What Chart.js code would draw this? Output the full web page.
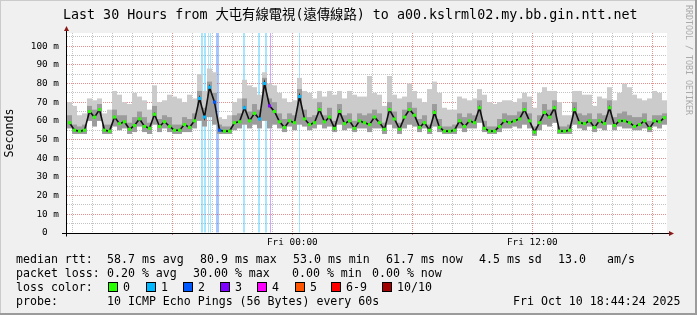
<!DOCTYPE html>
<html><head><meta charset="utf-8">
<script src="https://cdn.jsdelivr.net/npm/chart.js@4.4.0/dist/chart.umd.min.js"></script>
<style>
html,body{margin:0;padding:0;}
body{width:697px;height:315px;overflow:hidden;background:#f0f0f0;}
#wrap{position:relative;width:697px;height:315px;}
canvas{position:absolute;left:0;top:0;}
.t{position:absolute;font-family:"DejaVu Sans Mono",monospace;font-size:11.6px;white-space:pre;color:#000;line-height:14px;}
.title{position:absolute;left:63px;top:7px;font-family:"DejaVu Sans Mono","Noto Sans CJK TC",monospace;font-size:13.33px;line-height:16px;white-space:pre;color:#000;}
.wm{position:absolute;left:684px;top:5px;writing-mode:vertical-rl;font-family:"DejaVu Sans Mono",monospace;font-size:8.3px;line-height:9px;color:#aaaaaa;white-space:pre;}
.box{position:absolute;width:10px;height:10px;box-sizing:border-box;border:1px solid #000;top:282px;}
.fr{position:absolute;}
</style></head>
<body><div id="wrap">
<canvas id="c" width="697" height="315"></canvas>
<div class="fr" style="left:0;top:0;width:697px;height:1px;background:#cbcbcb"></div>
<div class="fr" style="left:0;top:0;width:1px;height:315px;background:#cbcbcb"></div>
<div class="fr" style="left:695px;top:0;width:2px;height:315px;background:#9b9b9b"></div>
<div class="fr" style="left:0;top:313px;width:697px;height:2px;background:#9b9b9b"></div>
<div class="title">Last 30 Hours from 大屯有線電視(遠傳線路) to a00.kslrml02.my.bb.gin.ntt.net</div>
<div class="wm">RRDTOOL / TOBI OETIKER</div>
<div id="legend"></div>
</div>
<script>
// ---- data (15-minute samples across 30 hours, values in ms) ----
const medianRtt = [
59, 55, 54.5, 55, 65, 62, 66, 55, 54.5, 62,
58.5, 59.5, 55.5, 57.5, 61, 57, 56, 63.5, 57, 59.5,
57, 55, 55, 58, 56.5, 60, 72, 62, 78, 70,
55, 54.5, 54.5, 59, 59.5, 67, 60, 64, 61, 80,
68, 65, 59.5, 56.5, 60, 59, 73, 61, 58, 59,
66, 59.5, 62, 56, 65, 58.5, 60, 56, 60, 59,
58, 62, 59, 55.5, 66, 61, 55.5, 62, 66, 63,
56.5, 59, 55, 64.5, 56.5, 54.5, 54.5, 55, 60, 57,
60, 59, 67, 56, 54.5, 54.5, 57, 60, 59, 60,
61, 66, 60, 54, 59, 64.5, 62, 67, 54.5, 54.5,
55, 66, 59, 58.5, 60, 56.5, 60, 58.5, 67, 57.5,
60, 60, 59, 57, 58, 60, 56, 60, 59.5, 61.7
];
const pingMin = [
56, 53, 53, 53, 60, 57, 60, 53, 53, 57,
55, 56, 53, 54, 57, 54, 53, 58, 54, 56,
54, 53, 53, 54, 54, 56, 60, 57, 62, 58,
53, 53, 53, 55, 56, 58, 56, 58, 56, 60,
56, 58, 56, 54, 57, 55, 58, 57, 55, 56,
58, 56, 57, 54, 58, 55, 56, 54, 56, 56,
54, 56, 56, 53, 58, 56, 53, 56, 58, 57,
54, 56, 53, 57, 54, 53, 53, 53, 56, 54,
56, 56, 59, 54, 53, 53, 54, 56, 56, 57,
56, 58, 56, 52, 55, 58, 57, 59, 53, 53,
53, 58, 56, 55, 57, 54, 56, 55, 58, 55,
57, 56, 56, 55, 55, 56, 54, 57, 56, 58
];
const pingUpper = [
63, 58, 57, 58, 68, 66, 69, 58, 58, 66,
63, 63, 59, 62, 65, 62, 59, 68, 61, 63,
62, 58, 58, 62, 61, 64, 76, 67, 81, 75,
58, 57, 57, 63, 64, 72, 65, 69, 66, 83,
72, 70, 64, 61, 64, 63, 77, 66, 62, 63,
70, 63, 67, 60, 69, 63, 64, 60, 64, 63,
64, 66, 64, 59, 70, 65, 59, 66, 70, 67,
61, 63, 58, 69, 61, 57, 57, 58, 64, 62,
64, 63, 71, 60, 57, 57, 61, 64, 63, 63,
65, 70, 64, 57, 63, 69, 66, 71, 57, 57,
58, 70, 64, 63, 64, 61, 64, 63, 71, 62,
64, 65, 63, 62, 62, 64, 60, 63, 63, 64
];
const pingMax = [
70, 68, 63, 64, 72, 71, 72, 64, 66, 76, 74, 70, 69, 75, 73, 71, 66, 79, 70, 71, 74, 73, 72, 70, 74, 72, 85, 76, 88, 86,
62, 61, 63, 70, 72, 82, 79, 78, 74, 86, 80, 79, 75, 72, 70, 71, 83, 76, 75, 72, 76, 73, 76, 74, 76, 72, 76, 74, 73, 73,
84, 75, 74, 68, 84, 74, 72, 73, 80, 76, 72, 70, 77, 81, 75, 67, 66, 66, 73, 72, 71, 72, 77, 74, 70, 69, 70, 71, 71, 70,
72, 75, 73, 67, 75, 78, 76, 76, 70, 63, 63, 76, 76, 74, 74, 68, 73, 72, 78, 71, 75, 80, 78, 74, 72, 71, 72, 76, 75, 71
];
// loss events: 3-minute step index and number of lost pings (of 10)
const lossStep  = [134,135,137,138,141,143,149,150,151,176,177,191,192,198,199,203,232];
const lossCount = [1,1,1,1,1,1,2,2,2,1,1,1,1,1,1,3,1];
// x axis: minutes since Thu 12:44
const hourTicks = [16,76,136,196,256,316,376,436,496,556,616,676,736,796,856,916,976,1036,1096,1156,1216,1276,1336,1396,1456,1516,1576,1636,1696,1756];
const majorTicks = [316,676,1036,1396,1756];
const xLabelAt = [676,1396];
const xLabelText = ['Fri 00:00','Fri 12:00'];
const yTicks = [0,5,10,15,20,25,30,35,40,45,50,55,60,65,70,75,80,85,90,95,100,105];
// legend
const lossLevels = ['0','1','2','3','4','5','6-9','10/10'];
const lossColors = ['#26ff00','#00b8ff','#0059ff','#7e00ff','#ff00ff','#ff5500','#ff0000','#a10000'];
const lossBoxX = [108,146,183,220,257,295,331,382];
const statLines = [
  [[16,259,'median rtt:'],[107,259,'58.7 ms avg'],[200,259,'80.9 ms max'],[293,259,'53.0 ms min'],[386,259,'61.7 ms now'],[479,259,'4.5 ms sd'],[558,259,'13.0'],[607,259,'am/s']],
  [[16,273,'packet loss:'],[107,273,'0.20 % avg'],[193,273,'30.00 % max'],[292,273,'0.00 % min'],[372,273,'0.00 % now']],
  [[16,287,'loss color:']],
  [[16,301,'probe:'],[107,301,'10 ICMP Echo Pings (56 Bytes) every 60s'],[513,301,'Fri Oct 10 18:44:24 2025']]
];

// ---- legend text ----
const lg = document.getElementById('legend');
statLines.forEach(line => line.forEach(([x,y,s]) => {
  const d = document.createElement('div'); d.className='t'; d.style.left=x+'px'; d.style.top=(y-7)+'px'; d.textContent=s; lg.appendChild(d);
}));
lossLevels.forEach((lab,i) => {
  const b = document.createElement('div'); b.className='box'; b.style.left=lossBoxX[i]+'px'; b.style.background=lossColors[i]; lg.appendChild(b);
  const d = document.createElement('div'); d.className='t'; d.style.left=(lossBoxX[i]+15)+'px'; d.style.top='280px'; d.textContent=lab; lg.appendChild(d);
});

// ---- chart ----
const tMin = medianRtt.map((_, i) => 15*i + 7.5);
const lossFill = ['', 'rgba(0,184,255,0.35)', 'rgba(0,89,255,0.35)', 'rgba(126,0,255,0.35)'];
function pointColor(i){
  let m = 0;
  lossStep.forEach((s,k) => { if (s >= 5*i && s < 5*i+5) m = Math.max(m, lossCount[k]); });
  return lossColors[m];
}
const lossDatasets = [1,2,3].map(level => ({
  type:'bar', order:3, grouped:false, barThickness:1, inflateAmount:0, borderWidth:0,
  backgroundColor: lossFill[level],
  data: lossStep.map((s,k)=>({s,k})).filter(o=>lossCount[o.k]===level).map(o=>({x: o.s*3+1.5, y:[0,107]}))
}));

const plotBg = {
  id:'plotBg',
  beforeDraw(chart){ const {ctx, chartArea:a} = chart; ctx.save(); ctx.fillStyle='#fff'; ctx.fillRect(a.left,a.top,a.right-a.left,a.bottom-a.top); ctx.restore(); }
};
const axisArrows = {
  id:'axisArrows',
  afterDraw(chart){
    const {ctx, chartArea:a} = chart;
    const x0 = a.left - 0.5, y0 = a.bottom + 0.5;
    ctx.save();
    ctx.strokeStyle='#000'; ctx.lineWidth=1;
    ctx.beginPath();
    ctx.moveTo(x0, y0+3); ctx.lineTo(x0, a.top-3);
    ctx.moveTo(a.left-5, y0); ctx.lineTo(a.right+3, y0);
    ctx.stroke();
    ctx.fillStyle='#8b1a1a';
    ctx.beginPath(); ctx.moveTo(x0-2.5, a.top-2); ctx.lineTo(x0+2.5, a.top-2); ctx.lineTo(x0, a.top-7); ctx.closePath(); ctx.fill();
    ctx.beginPath(); ctx.moveTo(a.right+2, y0-2.5); ctx.lineTo(a.right+2, y0+2.5); ctx.lineTo(a.right+7, y0); ctx.closePath(); ctx.fill();
    ctx.restore();
  }
};

new Chart(document.getElementById('c'), {
  type:'bar',
  data:{
    datasets:[
      { type:'line', order:0, data: medianRtt.map((v,i)=>({x:tMin[i], y:v})),
        borderColor:'#111', borderWidth:1.6, tension:0,
        pointStyle:'rect', pointRadius:2.2, pointBorderWidth:0,
        pointBackgroundColor: medianRtt.map((_,i)=>pointColor(i)) },
      { type:'bar', order:1, grouped:false, barThickness:5, inflateAmount:0, borderWidth:0,
        backgroundColor:'#9c9c9c', data: tMin.map((t,i)=>({x:t, y:[pingMin[i], pingUpper[i]]})) },
      { type:'bar', order:2, grouped:false, barThickness:5, inflateAmount:0, borderWidth:0,
        backgroundColor:'#cbcbcb', data: tMin.map((t,i)=>({x:t, y:[pingMin[i], pingMax[i]]})) },
      ...lossDatasets
    ]
  },
  options:{
    responsive:false, animation:false, devicePixelRatio:1,
    layout:{ padding:{ top:33, right:30, bottom:62, left:0 } },
    plugins:{ legend:{display:false}, tooltip:{enabled:false} },
    scales:{
      x:{ type:'linear', min:0, max:1800, offset:false,
        afterBuildTicks: s => { s.ticks = hourTicks.map(v=>({value:v})); },
        afterFit: s => { s.height = 20; },
        ticks:{ autoSkip:false, maxRotation:0, padding:2, color:'#000',
          font:{ family:'DejaVu Sans Mono', size:9.4 },
          callback: v => { const k = xLabelAt.indexOf(v); return k >= 0 ? xLabelText[k] : ''; } },
        grid:{ offset:false, lineWidth:1, drawTicks:true, tickLength:2,
          color: c => majorTicks.includes(c.tick && c.tick.value) ? 'rgba(225,115,115,0.8)' : 'rgba(175,175,175,0.75)',
          tickColor: c => majorTicks.includes(c.tick && c.tick.value) ? 'rgba(225,115,115,0.9)' : 'rgba(0,0,0,0)' },
        border:{ display:false, dash:[1,1] }
      },
      y:{ type:'linear', min:0, max:107,
        afterBuildTicks: s => { s.ticks = yTicks.map(v=>({value:v})); },
        afterFit: s => { s.width = 67; },
        ticks:{ autoSkip:false, padding:8, color:'#000',
          font:{ family:'DejaVu Sans Mono', size:9.4 },
          callback: v => v === 0 ? '0  ' : (v % 10 === 0 ? v + ' m' : '') },
        grid:{ lineWidth:1, drawTicks:false,
          color: c => { const v = c.tick ? c.tick.value : 0; return v === 0 ? 'rgba(0,0,0,0)' : (v % 10 === 0 ? 'rgba(225,115,115,0.8)' : 'rgba(175,175,175,0.75)'); } },
        border:{ display:false, dash:[1,1] },
        title:{ display:true, text:'Seconds', color:'#000', padding:{top:3,bottom:0},
          font:{ family:'DejaVu Sans Mono', size:11.6 } }
      }
    }
  },
  plugins:[plotBg, axisArrows]
});
</script>
</body></html>
